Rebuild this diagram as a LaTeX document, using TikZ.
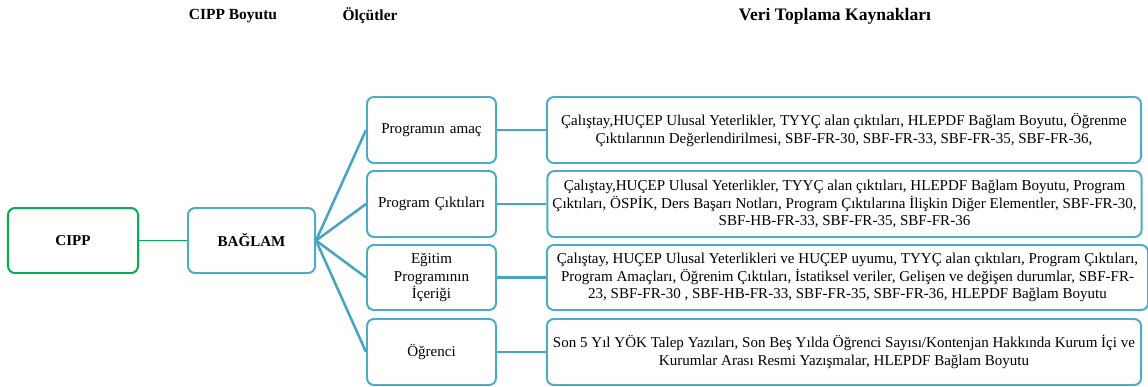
\documentclass[tikz,border=0pt]{standalone}
\usepackage{fontspec}
\setmainfont{Liberation Serif}
\usetikzlibrary{positioning}
\definecolor{cippgreen}{RGB}{0,176,80}
\definecolor{baglamblue}{RGB}{75,172,198}
\definecolor{linkblue}{RGB}{72,165,192}

\begin{document}
\begin{tikzpicture}[x=0.025cm, y=-0.025cm,
        box/.style={draw=baglamblue, line width=1.4pt, rounded corners=5pt, fill=white, align=center,
            font=\fontsize{10.7}{12.6}\selectfont, inner sep=2pt},
        critbox/.style={box, minimum width=3.225cm, minimum height=1.65cm, text width=3cm},
        srcbox/.style={box, minimum width=14.85cm, minimum height=1.65cm},
        heading/.style={font=\fontsize{11}{13}\selectfont\bfseries},
        link/.style={draw=linkblue, line width=1.8pt}]
        \useasboundingbox (0,0) rectangle (1148,387);

        % column headings
        \node[heading] (H1) at (233,16) {CIPP Boyutu};
        \node[heading] (H2) at (370,16) {Ölçütler};
        \node[heading, font=\fontsize{12.5}{14}\selectfont\bfseries] (H3) at (835,16) {Veri Toplama Kaynakları};

        % CIPP and its dimension
        \node[box, draw=cippgreen, minimum width=3.25cm, minimum height=1.625cm, font=\fontsize{10.7}{12.6}\selectfont\bfseries] (CIPP) at (73,240.5) {CIPP};
        \node[box, minimum width=3.175cm, minimum height=1.625cm, font=\fontsize{10.7}{12.6}\selectfont\bfseries] (B) at (251.5,240.5) {BAĞLAM};

        % criteria
        \node[critbox] (C1) at (431.5,130) {Programın amaç};
        \node[critbox] (C2) at (431.5,204) {Program Çıktıları};
        \node[critbox, minimum height=1.625cm] (C3) at (431.5,277.5) {Eğitim\\Programının\\İçeriği};
        \node[critbox] (C4) at (431.5,352) {Öğrenci};

        % data sources
        \node[srcbox] (S1) at (844,130) {Çalıştay,HUÇEP Ulusal Yeterlikler, TYYÇ alan çıktıları, HLEPDF Bağlam Boyutu, Öğrenme\\Çıktılarının Değerlendirilmesi, SBF-FR-30, SBF-FR-33, SBF-FR-35, SBF-FR-36,};
        \node[srcbox] (S2) at (844.5,204) {Çalıştay,HUÇEP Ulusal Yeterlikler, TYYÇ alan çıktıları, HLEPDF Bağlam Boyutu, Program\\Çıktıları, ÖSPİK, Ders Başarı Notları, Program Çıktılarına İlişkin Diğer Elementler, SBF-FR-30,\\SBF-HB-FR-33, SBF-FR-35, SBF-FR-36};
        \node[srcbox, minimum width=15.025cm, minimum height=1.625cm] (S3) at (847.5,277.5) {Çalıştay, HUÇEP Ulusal Yeterlikleri ve HUÇEP uyumu, TYYÇ alan çıktıları, Program Çıktıları,\\Program Amaçları, Öğrenim Çıktıları, İstatiksel veriler, Gelişen ve değişen durumlar, SBF-FR-\\23, SBF-FR-30 , SBF-HB-FR-33, SBF-FR-35, SBF-FR-36, HLEPDF Bağlam Boyutu};
        \node[srcbox] (S4) at (844,352) {Son 5 Yıl YÖK Talep Yazıları, Son Beş Yılda Öğrenci Sayısı/Kontenjan Hakkında Kurum İçi ve\\Kurumlar Arası Resmi Yazışmalar, HLEPDF Bağlam Boyutu};

        % connectors
        \draw [draw=cippgreen, line width=1.4pt] (CIPP) -- (B);
        \draw [link] (B.east) -- (C1.west);
        \draw [link] (B.east) -- (C2.west);
        \draw [link] (B.east) -- (C3.west);
        \draw [link] (B.east) -- (C4.west);
        \draw [link] (C1) -- (S1);
        \draw [link] (C2) -- (S2);
        \draw [link] (C3) -- (S3);
        \draw [link] (C4) -- (S4);
    \end{tikzpicture}
\end{document}
